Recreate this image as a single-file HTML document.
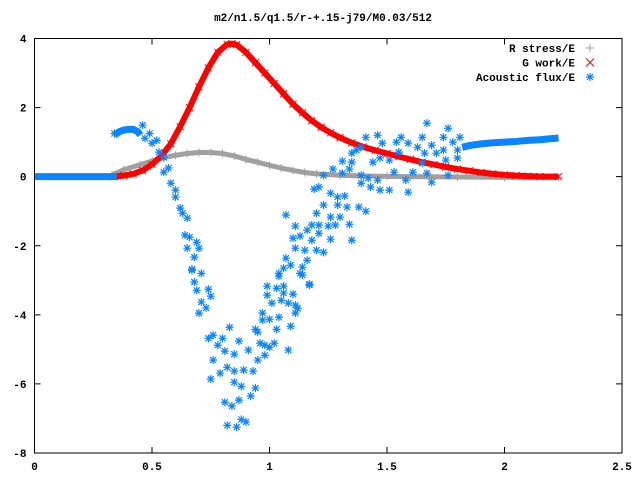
<!DOCTYPE html>
<html><head><meta charset="utf-8"><style>
html,body{margin:0;padding:0;background:#fff;width:640px;height:480px;overflow:hidden}
text{font-family:"Liberation Mono",monospace;font-size:11px;font-weight:bold;fill:#000}
</style></head><body>
<svg id="chart" width="640" height="480" xmlns="http://www.w3.org/2000/svg">
<text x="323" y="21" text-anchor="middle">m2/n1.5/q1.5/r-+.15-j79/M0.03/512</text>
<g id="grid"></g>
<g id="series"></g>
<rect x="34.5" y="38.5" width="587.5" height="414.5" fill="none" stroke="#000" stroke-width="1"/>
<g id="legend"></g>
</svg>
<script>
const xTicks=[0,0.5,1,1.5,2,2.5];
const xTickLabels=["0","0.5","1","1.5","2","2.5"];
const yTicks=[-8,-6,-4,-2,0,2,4];
const yTickLabels=["-8","-6","-4","-2","0","2","4"];
const redX=[0.34,0.38,0.42,0.46,0.50,0.54,0.58,0.62,0.66,0.70,0.74,0.78,0.82,0.84,0.86,0.90,0.94,0.98,1.02,1.06,1.10,1.14,1.18,1.22,1.26,1.30,1.35,1.40,1.45,1.50,1.55,1.60,1.65,1.70,1.75,1.80,1.85,1.90,1.95,2.00,2.05,2.10,2.15,2.23];
const redY=[0,0.03,0.08,0.18,0.35,0.6,0.95,1.45,2.0,2.6,3.15,3.6,3.83,3.85,3.82,3.6,3.3,3.0,2.7,2.4,2.1,1.85,1.62,1.43,1.27,1.13,0.98,0.86,0.76,0.67,0.58,0.5,0.42,0.35,0.28,0.22,0.17,0.12,0.08,0.05,0.03,0.015,0.005,0];
const grayX=[0.33,0.38,0.45,0.5,0.55,0.6,0.65,0.7,0.75,0.8,0.85,0.9,0.95,1.0,1.05,1.1,1.15,1.2,1.3,1.4,1.5,1.6,1.8,2.0,2.23];
const grayY=[0.05,0.2,0.35,0.45,0.55,0.62,0.67,0.7,0.7,0.67,0.6,0.5,0.42,0.33,0.25,0.18,0.12,0.08,0.04,0.02,0.01,0,-0.01,-0.02,-0.02];
const blueLineX=[0,0.05,0.1,0.15,0.2,0.25,0.3,0.35];
const blueLineY=[0,0,0,0,0,0,0,0];
const blueArcX=[0.34,0.36,0.38,0.40,0.42,0.44,0.45];
const blueArcY=[1.2,1.3,1.35,1.37,1.37,1.3,1.2];
const blueTailX=[1.82,1.85,1.9,1.95,2.0,2.05,2.1,2.15,2.2,2.23];
const blueTailY=[0.85,0.9,0.95,0.98,1.0,1.02,1.05,1.07,1.1,1.12];
const blueX=[0.34,0.46,0.49,0.47,0.52,0.50,0.53,0.55,0.57,0.55,0.58,0.60,0.60,0.62,0.63,0.65,0.64,0.66,0.69,0.65,0.70,0.68,0.67,0.67,0.71,0.68,0.69,0.74,0.71,0.75,0.70,0.73,0.83,0.74,0.76,0.80,0.78,0.81,0.85,0.87,0.91,0.76,0.79,0.75,0.82,0.85,0.89,0.93,0.95,0.85,0.88,0.94,0.92,0.81,0.84,0.87,0.82,0.86,0.88,0.90,0.99,1.03,1.06,0.99,1.06,1.01,1.05,1.08,1.10,1.11,1.12,1.11,0.97,1.0,1.04,0.97,0.94,0.95,1.03,1.09,0.96,0.98,1.0,1.02,1.08,0.98,1.04,1.13,1.17,1.14,1.07,1.11,1.10,1.11,1.07,1.09,1.06,1.04,1.19,1.21,1.26,1.29,1.32,1.29,1.33,1.38,1.41,1.23,1.20,1.26,1.30,1.18,1.21,1.25,1.28,1.34,1.13,1.16,1.18,1.21,1.26,1.35,1.15,1.20,1.23,1.14,1.16,1.17,1.23,1.27,1.31,1.31,1.34,1.35,1.35,1.37,1.39,1.41,1.46,1.44,1.39,1.42,1.39,1.46,1.47,1.51,1.59,1.48,1.54,1.56,1.59,1.47,1.51,1.55,1.53,1.58,1.61,1.65,1.67,1.63,1.66,1.69,1.71,1.65,1.67,1.69,1.74,1.76,1.78,1.81,1.74,1.75,1.80,1.76,1.80,1.43];
const blueY=[1.25,1.49,1.25,1.11,1.05,0.97,0.71,0.56,0.25,0.13,-0.19,-0.39,-0.59,-0.91,-1.06,-1.2,-1.69,-1.75,-1.9,-2.07,-2.07,-2.33,-2.68,-2.71,-2.8,-3.05,-3.29,-3.26,-3.63,-3.46,-3.95,-3.8,-4.36,-4.68,-4.59,-4.68,-4.88,-5.05,-5.14,-4.76,-5.02,-5.31,-5.69,-5.86,-5.52,-5.63,-5.6,-5.63,-5.31,-5.95,-6.07,-6.12,-6.35,-6.53,-6.64,-6.47,-7.2,-7.25,-7.03,-7.1,-3.17,-3.23,-3.17,-3.43,-3.37,-3.66,-3.58,-3.66,-3.4,-3.72,-3.81,-3.95,-3.95,-4.13,-4.07,-4.15,-4.42,-4.5,-4.42,-4.33,-4.82,-4.88,-4.94,-4.82,-5.02,-5.17,-2.8,-2.8,-3.14,-2.85,-1.11,-1.43,-1.78,-2.07,-2.36,-2.56,-2.65,-2.88,-0.36,-0.3,-0.48,-0.59,-0.56,-0.82,-0.88,-0.88,-1.0,-0.82,-1.06,-1.17,-1.17,-1.4,-1.4,-1.43,-1.4,-1.38,-1.72,-1.55,-1.84,-1.64,-1.81,-1.84,-2.13,-2.13,-2.19,-2.62,-2.42,-3.11,0.04,0.22,0.45,0.1,0.22,0.42,0.68,0.77,0.85,1.14,1.2,0.42,0.04,-0.04,-0.19,-0.1,-0.39,-0.39,-0.45,0.97,1.0,1.14,0.97,0.54,0.48,0.71,0.13,-0.1,0.13,1.14,1.55,0.85,0.68,0.91,0.68,0.39,0.1,-0.16,1.14,1.4,1.0,1.14,0.77,0.48,0.54,0.04,0.77,-0.3];

const NS="http://www.w3.org/2000/svg";
const L=34.5,R=622,T=38.5,B=453;
function sx(v){return L+(v-0)/(2.5-0)*(R-L);}
function sy(v){return B-(v-(-8))/(4-(-8))*(B-T);}
function mk(tag,attrs,parent){const e=document.createElementNS(NS,tag);for(const k in attrs)e.setAttribute(k,attrs[k]);parent.appendChild(e);return e;}
const grid=document.getElementById('grid');
const series=document.getElementById('series');
const legend=document.getElementById('legend');
xTicks.forEach((t,i)=>{
  const x=sx(t);
  const a=mk('path',{d:`M${x} ${B}v-6M${x} ${T}v6`,stroke:'#000','stroke-width':1},grid);
  
  
  const lb=mk('text',{x:x,y:B+17,'text-anchor':'middle'},grid);
  lb.textContent=xTickLabels[i];
  
  
});
yTicks.forEach((t,i)=>{
  const y=sy(t);
  const a=mk('path',{d:`M${L} ${y}h6M${R} ${y}h-6`,stroke:'#000','stroke-width':1},grid);
  
  
  const lb=mk('text',{x:L-8,y:y+4,'text-anchor':'end'},grid);
  lb.textContent=yTickLabels[i];
  
  
});
function line(xs,ys,color,w,name){
  const p=mk('polyline',{points:xs.map((x,i)=>sx(x)+','+sy(ys[i])).join(' '),fill:'none',stroke:color,'stroke-width':w,'stroke-linejoin':'round'},series);
  
  
}
function plus(x,y,c,s,g){return mk('path',{d:`M${x-s} ${y}h${2*s}M${x} ${y-s}v${2*s}`,stroke:c,'stroke-width':1,fill:'none'},g);}
function cross(x,y,c,s,g){return mk('path',{d:`M${x-s} ${y-s}l${2*s} ${2*s}M${x-s} ${y+s}l${2*s} ${-2*s}`,stroke:c,'stroke-width':1,fill:'none'},g);}
function star(x,y,c,s,g){return mk('path',{d:`M${x-s} ${y}h${2*s}M${x} ${y-s}v${2*s}M${x-s*0.75} ${y-s*0.75}l${1.5*s} ${1.5*s}M${x-s*0.75} ${y+s*0.75}l${1.5*s} ${-1.5*s}`,stroke:c,'stroke-width':1.2,fill:'none'},g);}
const GRAY='#a0a0a0',RED='#ff0000',BLUE='#0a84ff';
line(grayX,grayY,GRAY,5,'r-stress-line');
grayX.forEach((x,i)=>{const m=plus(sx(x),sy(grayY[i]),GRAY,4,series);
  
  });
line(redX,redY,RED,6,'g-work-line');
redX.forEach((x,i)=>{const m=cross(sx(x),sy(redY[i]),RED,3.5,series);
  
  });
line(blueLineX,blueLineY,BLUE,7,'acoustic-flux-flat');
line(blueArcX,blueArcY,BLUE,7,'acoustic-flux-arc');
line(blueTailX,blueTailY,BLUE,7,'acoustic-flux-tail');
blueX.forEach((x,i)=>{const m=star(sx(x),sy(blueY[i]),BLUE,4,series);
  
  });
const legItems=[['R stress/E',GRAY,plus],['G work/E',RED,cross],['Acoustic flux/E',BLUE,star]];
legItems.forEach((it,i)=>{
  const y=48+i*14.5;
  const t=mk('text',{x:575,y:y+4,'text-anchor':'end'},legend);
  t.textContent=it[0];
  
  
  const m=it[2](590,y,it[1],4,legend);
  
  
});
</script>
</body></html>
